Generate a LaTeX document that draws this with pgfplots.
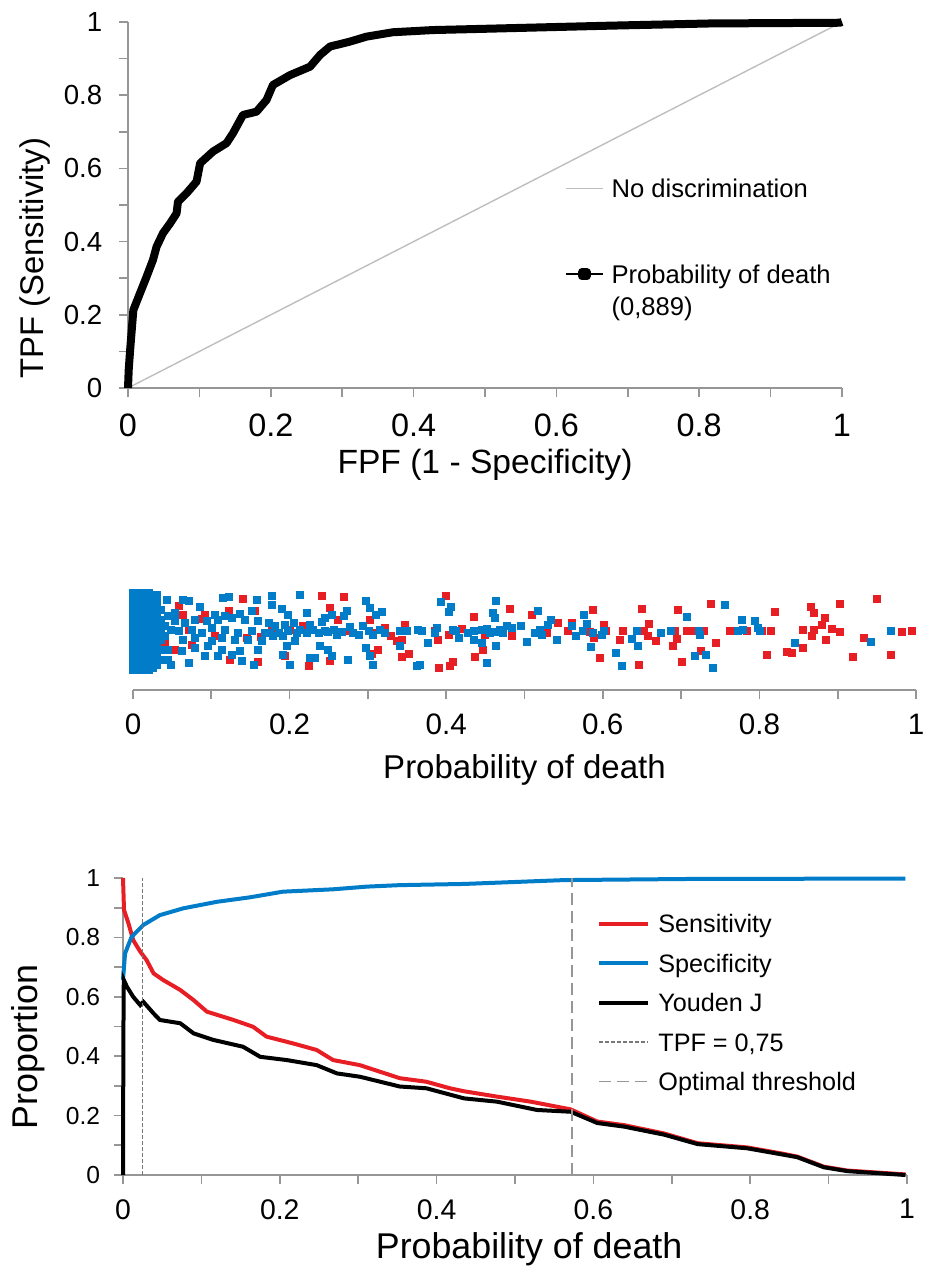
\documentclass[border=0pt]{standalone}
\usepackage{fontspec}
\setmainfont{Liberation Sans}
\usepackage{pgfplots}
\pgfplotsset{compat=1.18}
\renewcommand{\arraystretch}{1.05}

\definecolor{sensred}{RGB}{232,30,37}
\definecolor{specblue}{RGB}{0,124,200}
\definecolor{axisgray}{RGB}{150,150,150}
\definecolor{diaggray}{RGB}{190,190,190}
\definecolor{dashgray}{RGB}{120,120,120}
\definecolor{optgray}{RGB}{150,150,150}

\pgfplotsset{
  excel/.style={
    scale only axis, clip=false,
    xmin=0, xmax=1,
    axis line style={-, axisgray, line width=0.85pt},
    tick align=outside,
    major tick length=4.5pt, minor tick length=4.5pt,
    every tick/.append style={axisgray, line width=0.85pt},
    xtick={0,0.2,0.4,0.6,0.8,1},
    minor xtick={0.1,0.3,0.5,0.7,0.9},
    /pgf/number format/assume math mode=true,
  },
}

% scatter: x = predicted probability, y = jitter height (px above axis)
\pgfplotstableread{
x h
0.820 77.7
0.866 83
0.869 77
0.903 86
0.950 91.3
0.883 72
0.880 65.3
0.856 60.3
0.869 60.3
0.892 61.3
0.903 57.7
0.867 54.3
0.885 49.7
0.855 41.7
0.835 38
0.842 37
0.810 35.3
0.920 32.7
0.934 52
0.968 35.3
0.982 58
0.995 58.7
0.784 58.7
0.803 58.7
0.815 58.7
0.587 80.3
0.650 81.3
0.696 80.3
0.738 86.3
0.602 64.7
0.584 58
0.604 58.7
0.588 52
0.626 59.3
0.622 49.7
0.659 66.3
0.652 59.3
0.658 53.7
0.668 48.7
0.689 43.7
0.695 51
0.707 58.7
0.716 58.7
0.729 58.7
0.762 58.7
0.725 39.3
0.745 47
0.701 27.7
0.646 25.3
0.596 32
0.692 58.7
0.577 58.7
0.399 94.3
0.481 81.3
0.436 73
0.509 74.7
0.543 67
0.386 59.3
0.403 55.3
0.420 61
0.450 55.3
0.484 54.3
0.528 57
0.390 49.7
0.447 40.3
0.437 33
0.408 27.7
0.405 23.7
0.391 22
0.560 67
0.556 58.7
0.241 94.3
0.269 93
0.252 82
0.262 70.3
0.302 69.7
0.347 65.3
0.322 62
0.307 57
0.330 53.7
0.337 48.7
0.343 50.3
0.313 40.3
0.352 36.3
0.343 33
0.305 36.3
0.252 28.7
0.225 23.7
0.194 34.3
0.217 63.7
0.177 62
0.201 60.3
0.277 58.7
0.140 91
0.058 83.7
0.092 75.3
0.088 71
0.122 78.7
0.156 78.7
0.064 75.3
0.041 47
0.054 40.3
0.075 45.3
0.124 30.3
0.160 27.7
0.145 52
0.163 52.7
0.071 60.3
0.105 53.7
}\deadtab

\pgfplotstableread{
x h
0.794 68.7
0.798 62
0.801 58.7
0.845 47
0.942 48
0.968 59.3
0.756 85.3
0.576 74.7
0.708 72.7
0.778 70.3
0.580 66.3
0.575 58.7
0.587 57
0.599 55.3
0.601 58.7
0.643 59.3
0.674 57
0.687 59.3
0.723 59.3
0.724 55.3
0.773 59.3
0.779 60.3
0.637 51
0.645 43.7
0.585 42.7
0.617 37
0.625 24.3
0.718 33.7
0.732 35.3
0.740 22
0.393 87.7
0.406 83
0.403 77.7
0.464 88.7
0.517 78.7
0.460 77
0.462 72
0.534 70.3
0.530 65.3
0.364 60.3
0.369 58.7
0.388 62
0.386 57
0.409 60.3
0.413 58.7
0.428 57
0.435 58.7
0.445 60.3
0.452 61
0.456 57
0.462 57.7
0.469 60.3
0.473 57
0.477 63.7
0.484 62
0.496 64.3
0.513 57
0.520 60.3
0.522 55.3
0.560 63.7
0.565 53.7
0.416 52
0.435 50.3
0.445 47
0.464 44.3
0.503 47.7
0.542 50.3
0.377 47
0.452 27
0.367 25.3
0.362 24.3
0.213 95.3
0.177 93.7
0.177 85.3
0.190 81
0.198 75.3
0.222 77
0.254 75.3
0.245 72
0.273 78.7
0.269 73.7
0.298 88.7
0.302 82
0.310 75.3
0.318 77.7
0.181 63.7
0.194 65.3
0.175 57
0.179 53.7
0.186 57
0.192 53.7
0.198 58.7
0.205 67
0.209 57
0.213 60.3
0.222 57
0.226 65.3
0.230 60.3
0.237 57
0.241 67.7
0.245 58.7
0.249 57.7
0.256 60.3
0.260 55.3
0.267 57.7
0.277 63
0.281 57
0.288 55.3
0.294 63.7
0.301 58.7
0.307 55.3
0.315 60.3
0.322 57
0.341 58.7
0.350 58.7
0.207 48.7
0.196 43.7
0.192 35.3
0.239 43.7
0.232 32
0.226 32
0.249 40.3
0.254 33.7
0.275 30.3
0.298 42
0.303 33.7
0.307 25.3
0.341 44.3
0.201 25.3
0.030 95.3
0.043 90.3
0.064 90.3
0.071 88.7
0.086 83
0.115 92
0.122 93
0.158 89.7
0.105 75.3
0.117 73.7
0.137 76.3
0.152 78.7
0.054 77
0.045 73.7
0.054 68.7
0.066 67
0.079 70.3
0.094 68.7
0.109 70.3
0.126 72
0.143 70.3
0.160 68.7
0.173 67
0.041 63.7
0.049 60.3
0.058 58.7
0.075 60.3
0.088 57
0.101 62
0.117 60.3
0.134 57
0.152 58.7
0.169 57
0.041 53.7
0.064 50.3
0.079 52
0.101 48.7
0.113 52
0.130 49.7
0.147 50.3
0.164 48.7
0.045 40.3
0.062 38.7
0.079 42
0.096 43.7
0.113 40.3
0.137 38.7
0.160 40.3
0.045 30.3
0.071 27
0.092 33.7
0.109 33.7
0.126 35.3
0.139 28.7
0.154 25.3
0.049 25.3
0.000 20
0.000 27
0.000 34
0.000 41
0.000 48
0.000 55
0.000 62
0.000 69
0.000 76
0.000 83
0.000 90
0.000 97
0.005 20
0.005 27
0.005 34
0.005 41
0.005 48
0.005 55
0.005 62
0.005 69
0.005 76
0.005 83
0.005 90
0.005 97
0.010 20
0.010 27
0.010 34
0.010 41
0.010 48
0.010 55
0.010 62
0.010 69
0.010 76
0.010 83
0.010 90
0.010 97
0.015 20
0.015 27
0.015 34
0.015 41
0.015 48
0.015 55
0.015 62
0.015 69
0.015 76
0.015 83
0.015 90
0.015 97
0.020 20
0.020 27
0.020 34
0.020 41
0.020 48
0.020 55
0.020 62
0.020 69
0.020 76
0.020 83
0.020 90
0.020 97
0.025 22
0.025 30
0.025 38
0.025 46
0.025 54
0.025 62
0.025 70
0.025 78
0.025 86
0.025 94
0.030 25
0.030 33
0.030 41
0.030 49
0.030 57
0.030 65
0.030 73
0.030 81
0.030 89
0.035 30
0.035 40
0.035 50
0.035 60
0.035 70
0.035 80
}\alivetab

\begin{document}
\begin{tikzpicture}
\useasboundingbox (0,0) rectangle (464pt,-634pt);

% ---------- ROC curve ----------
\begin{axis}[
  axis lines=left,
  at={(64pt,-194pt)}, anchor=south west,
  width=357pt, height=183pt,
  ymin=0, ymax=1,
  ytick={0,0.2,0.4,0.6,0.8,1}, minor ytick={0.1,0.3,0.5,0.7,0.9},
  xticklabel style={font=\fontsize{16.2}{19}\selectfont, yshift=-5.1pt},
  yticklabel style={font=\fontsize{13.8}{16}\selectfont, xshift=-4.9pt},
  xlabel={FPF (1 - Specificity)},
  ylabel={TPF (Sensitivity)},
  xlabel style={font=\fontsize{16.8}{20}\selectfont, at={(axis description cs:0.5,0)}, anchor=base, yshift=-42.7pt},
  ylabel style={font=\fontsize{16.4}{20}\selectfont, at={(axis description cs:-0.130,0.355)}, anchor=center},
  legend style={at={(axis description cs:0.6115,0.5907)}, anchor=north west, draw=none, fill=none,
    inner sep=0pt, row sep=26pt, column sep=2pt, font=\fontsize{12.8}{15.4}\selectfont,
    cells={anchor=base west, inner sep=0pt}},
  excel,
]
\addplot[diaggray, line width=0.7pt,
  legend image code/.code={\draw[diaggray, line width=0.7pt] (0pt,4.6pt) -- (18.5pt,4.6pt);}]
  coordinates {(0,0) (1,1)};
\addlegendentry{No discrimination\strut}
\addplot[black, line width=4pt, line join=round,
  legend image code/.code={\draw[black, line width=0.8pt] (0pt,4.6pt) -- (18.5pt,4.6pt);
    \fill[black] (8.15pt,3.5pt) rectangle (10.35pt,5.7pt);}]
  coordinates {(0,0) (0.001,0.05) (0.003,0.104) (0.0075,0.213) (0.017,0.26) (0.026,0.304)
    (0.035,0.35) (0.04,0.386) (0.049,0.423) (0.059,0.45) (0.068,0.477) (0.070,0.509)
    (0.082,0.532) (0.096,0.564) (0.101,0.614) (0.119,0.646) (0.138,0.669) (0.147,0.696)
    (0.161,0.746) (0.18,0.755) (0.194,0.787) (0.203,0.828) (0.227,0.855) (0.255,0.878)
    (0.269,0.91) (0.283,0.933) (0.31,0.946) (0.334,0.96) (0.371,0.972) (0.427,0.978)
    (0.47,0.98) (0.675,0.99) (0.815,0.996) (0.997,0.998) (1,1)};
\addlegendentry{\begin{tabular}[t]{@{}l@{}}Probability of death\\(0,889)\end{tabular}}
\end{axis}

% ---------- dot plot ----------
\begin{axis}[
  axis x line=bottom, axis y line=none,
  at={(66.5pt,-345pt)}, anchor=south west,
  width=391.5pt, height=55pt,
  ymin=0, ymax=110,
  xticklabel style={font=\fontsize{14.8}{18}\selectfont, yshift=-4.1pt},
  xlabel={Probability of death},
  xlabel style={font=\fontsize{16.5}{20}\selectfont, at={(axis description cs:0.5,0)}, anchor=base, yshift=-44pt},
  excel,
]
\addplot[only marks, mark=square*, mark size=1.75pt, color=sensred] table[x=x, y=h] {\deadtab};
\addplot[only marks, mark=square*, mark size=1.75pt, color=specblue] table[x=x, y=h] {\alivetab};
\end{axis}

% ---------- threshold curves ----------
\begin{axis}[
  axis lines=left,
  at={(61.5pt,-587.5pt)}, anchor=south west,
  width=392pt, height=148.5pt,
  ymin=0, ymax=1,
  ytick={0,0.2,0.4,0.6,0.8,1}, minor ytick={0.1,0.3,0.5,0.7,0.9},
  xticklabel style={font=\fontsize{14.2}{17}\selectfont, yshift=-4.1pt},
  yticklabel style={font=\fontsize{12.3}{15}\selectfont, xshift=-3.4pt},
  xlabel={Probability of death},
  ylabel={Proportion},
  xlabel style={font=\fontsize{17.9}{21}\selectfont, at={(axis description cs:0.518,0)}, anchor=base, yshift=-41.5pt},
  ylabel style={font=\fontsize{17.9}{21}\selectfont, at={(axis description cs:-0.121,0.431)}, anchor=center},
  legend style={at={(axis description cs:0.6046,0.902)}, anchor=north west, draw=none, fill=none,
    inner sep=0pt, row sep=3.75pt, column sep=2pt, font=\fontsize{12.6}{15}\selectfont,
    cells={anchor=base west, inner sep=0pt}},
  excel,
]
\addplot[sensred, line width=2pt,
  legend image code/.code={\draw[sensred, line width=2pt] (0pt,4.5pt) -- (24.5pt,4.5pt);}]
  coordinates {(0,1) (0.0013,0.892) (0.007,0.847) (0.013,0.791) (0.022,0.752) (0.03,0.724)
    (0.039,0.679) (0.051,0.657) (0.073,0.623) (0.09,0.589) (0.107,0.55) (0.141,0.522)
    (0.166,0.499) (0.183,0.466) (0.217,0.443) (0.247,0.421) (0.268,0.387) (0.302,0.37)
    (0.353,0.326) (0.387,0.314) (0.417,0.292) (0.435,0.282) (0.477,0.264) (0.52,0.247)
    (0.571,0.221) (0.605,0.18) (0.639,0.168) (0.69,0.14) (0.733,0.107) (0.796,0.093)
    (0.839,0.073) (0.86,0.062) (0.894,0.028) (0.924,0.015) (0.998,0.002)};
\addlegendentry{Sensitivity\strut}
\addplot[specblue, line width=2pt,
  legend image code/.code={\draw[specblue, line width=2pt] (0pt,4.5pt) -- (24.5pt,4.5pt);}]
  coordinates {(0,0.657) (0.0026,0.746) (0.011,0.802) (0.026,0.842) (0.047,0.875) (0.077,0.898)
    (0.12,0.92) (0.162,0.935) (0.204,0.954) (0.268,0.962) (0.311,0.971) (0.353,0.976)
    (0.435,0.98) (0.5625,0.993) (0.732,0.997) (0.998,0.998)};
\addlegendentry{Specificity\strut}
\addplot[black, line width=2pt,
  legend image code/.code={\draw[black, line width=2pt] (0pt,4.5pt) -- (24.5pt,4.5pt);}]
  coordinates {(0,0) (0.0005,0.47) (0.001,0.657) (0.005,0.634) (0.013,0.6) (0.022,0.572)
    (0.026,0.583) (0.039,0.544) (0.047,0.522) (0.073,0.511) (0.09,0.477) (0.115,0.455)
    (0.153,0.432) (0.175,0.398) (0.209,0.387) (0.247,0.37) (0.273,0.342) (0.302,0.331)
    (0.353,0.298) (0.387,0.292) (0.435,0.258) (0.477,0.247) (0.528,0.219) (0.571,0.213)
    (0.605,0.175) (0.639,0.163) (0.69,0.136) (0.733,0.104) (0.796,0.09) (0.839,0.07)
    (0.86,0.06) (0.894,0.026) (0.924,0.013) (0.998,0.0)};
\addlegendentry{Youden J\strut}
\addplot[dashgray, line width=0.6pt, dash pattern=on 2pt off 1pt,
  legend image code/.code={\draw[dashgray, line width=0.6pt, dash pattern=on 2pt off 1pt] (0pt,4.5pt) -- (24.5pt,4.5pt);}]
  coordinates {(0.025,0) (0.025,1)};
\addlegendentry{TPF = 0,75\strut}
\addplot[optgray, line width=0.8pt, dash pattern=on 6pt off 3pt,
  legend image code/.code={\draw[optgray, line width=0.8pt, dash pattern=on 6pt off 3pt] (0pt,4.5pt) -- (24.5pt,4.5pt);}]
  coordinates {(0.573,0) (0.573,1)};
\addlegendentry{Optimal threshold\strut}
\end{axis}
\end{tikzpicture}
\end{document}
